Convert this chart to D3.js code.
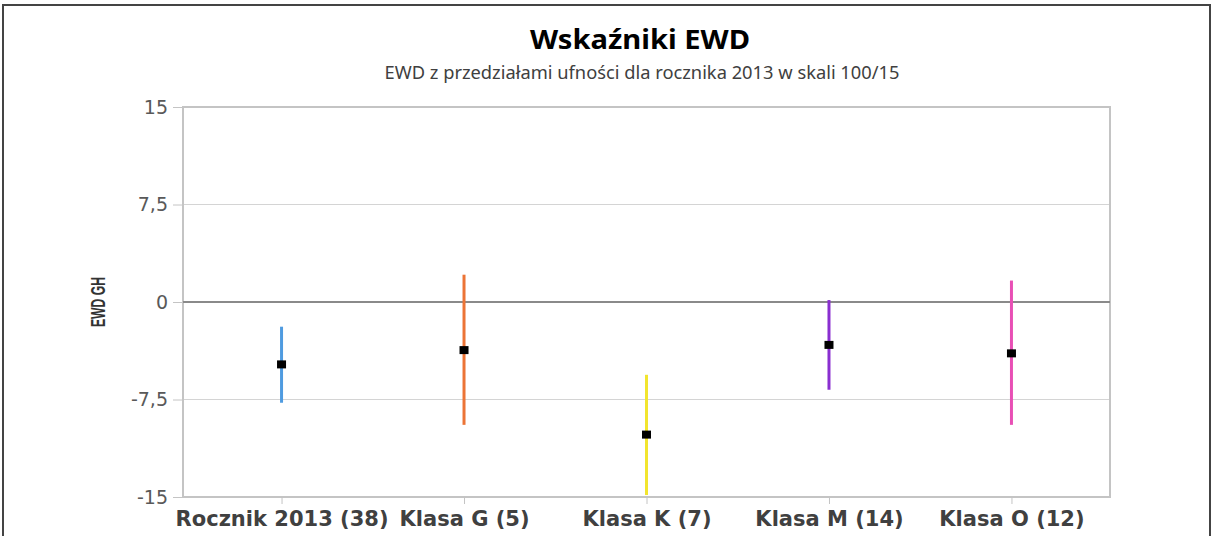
<!DOCTYPE html>
<html>
<head>
<meta charset="utf-8">
<script src="https://cdn.jsdelivr.net/npm/d3@7"></script>
<style>
  html, body { margin: 0; padding: 0; background: #fff; }
  svg { display: block; }
</style>
</head>
<body>
<div id="chart"></div>
<script>
// Chart data
const categories = ['Rocznik 2013 (38)', 'Klasa G (5)', 'Klasa K (7)', 'Klasa M (14)', 'Klasa O (12)'];
const ewdValues = [-4.8, -3.7, -10.2, -3.3, -3.95];
const lowerBounds = [-7.75, -9.45, -14.85, -6.75, -9.45];
const upperBounds = [-1.9, 2.1, -5.6, 0.15, 1.65];
const barColors = ['#4f9be0', '#ec7436', '#f2e52e', '#8a2fd0', '#e84fb5'];
const yTicks = [-15, -7.5, 0, 7.5, 15];

const width = 1212;
const height = 536;
const plot = { left: 183, right: 1110, top: 107, bottom: 497 };

const svg = d3.select('#chart')
    .append('svg')
    .attr('width', width)
    .attr('height', height);

// outer frame (no bottom edge visible in the picture)
svg.append('path')
    .attr('d', `M3,${height} V5 H1210 V${height}`)
    .attr('fill', 'none')
    .attr('stroke', '#444')
    .attr('stroke-width', 2);

const x = d3.scalePoint()
    .domain(categories)
    .range([plot.left, plot.right])
    .padding(0.54);

const y = d3.scaleLinear()
    .domain([-15, 15])
    .range([plot.bottom, plot.top]);

// gridlines
svg.append('g')
    .selectAll('line')
    .data(yTicks.filter(d => d !== 0 && d !== -15))
    .join('line')
    .attr('x1', plot.left)
    .attr('x2', plot.right)
    .attr('y1', d => y(d))
    .attr('y2', d => y(d))
    .attr('stroke', '#d4d4d4')
    .attr('stroke-width', 1);

// plot frame
svg.append('rect')
    .attr('x', plot.left)
    .attr('y', plot.top)
    .attr('width', plot.right - plot.left)
    .attr('height', plot.bottom - plot.top)
    .attr('fill', 'none')
    .attr('stroke', '#c4c4c4')
    .attr('stroke-width', 2);

// zero line
svg.append('line')
    .attr('x1', plot.left)
    .attr('x2', plot.right)
    .attr('y1', y(0))
    .attr('y2', y(0))
    .attr('stroke', '#8a8a8a')
    .attr('stroke-width', 2);

// y axis
const yAxis = svg.append('g')
    .attr('transform', `translate(${plot.left},0)`)
    .call(d3.axisLeft(y)
        .tickValues(yTicks)
        .tickSize(10)
        .tickPadding(5)
        .tickFormat(d => String(d).replace('.', ',')));
yAxis.select('.domain').remove();
yAxis.selectAll('line').attr('stroke', '#c4c4c4');
yAxis.selectAll('text')
    .attr('font-family', 'DejaVu Sans, Verdana, sans-serif')
    .attr('font-size', 19)
    .attr('fill', '#595959');

// x axis
const xAxis = svg.append('g')
    .attr('transform', `translate(0,${plot.bottom})`)
    .call(d3.axisBottom(x).tickSize(7).tickPadding(7));
xAxis.select('.domain').remove();
xAxis.selectAll('line').attr('stroke', '#c4c4c4');
xAxis.selectAll('text')
    .attr('font-family', 'DejaVu Sans, Verdana, sans-serif')
    .attr('font-weight', 'bold')
    .attr('font-size', 21)
    .attr('fill', '#404040');

// confidence intervals
svg.append('g')
    .selectAll('line')
    .data(categories)
    .join('line')
    .attr('x1', d => x(d))
    .attr('x2', d => x(d))
    .attr('y1', (d, i) => y(upperBounds[i]))
    .attr('y2', (d, i) => y(lowerBounds[i]))
    .attr('stroke', (d, i) => barColors[i])
    .attr('stroke-width', 3);

// EWD markers
svg.append('g')
    .selectAll('rect')
    .data(categories)
    .join('rect')
    .attr('x', d => x(d) - 4.5)
    .attr('y', (d, i) => y(ewdValues[i]) - 4)
    .attr('width', 9)
    .attr('height', 8)
    .attr('fill', '#000');

// titles
svg.append('text')
    .attr('x', 640)
    .attr('y', 49)
    .attr('text-anchor', 'middle')
    .attr('font-family', 'Noto Sans, Open Sans, sans-serif')
    .attr('font-weight', 'bold')
    .attr('font-size', 27)
    .attr('textLength', 220)
    .attr('lengthAdjust', 'spacingAndGlyphs')
    .attr('fill', '#000')
    .text('Wskaźniki EWD');

svg.append('text')
    .attr('x', 642)
    .attr('y', 79)
    .attr('text-anchor', 'middle')
    .attr('font-family', 'Noto Sans, Open Sans, sans-serif')
    .attr('font-size', 17.5)
    .attr('textLength', 515)
    .attr('lengthAdjust', 'spacingAndGlyphs')
    .attr('fill', '#404040')
    .text('EWD z przedziałami ufności dla rocznika 2013 w skali 100/15');

svg.append('text')
    .attr('transform', `translate(105,${y(0)}) rotate(-90)`)
    .attr('text-anchor', 'middle')
    .attr('font-family', 'Liberation Sans, Arial, sans-serif')
    .attr('font-weight', 'bold')
    .attr('font-size', 20)
    .attr('textLength', 50)
    .attr('lengthAdjust', 'spacingAndGlyphs')
    .attr('fill', '#333')
    .text('EWD GH');
</script>
</body>
</html>
